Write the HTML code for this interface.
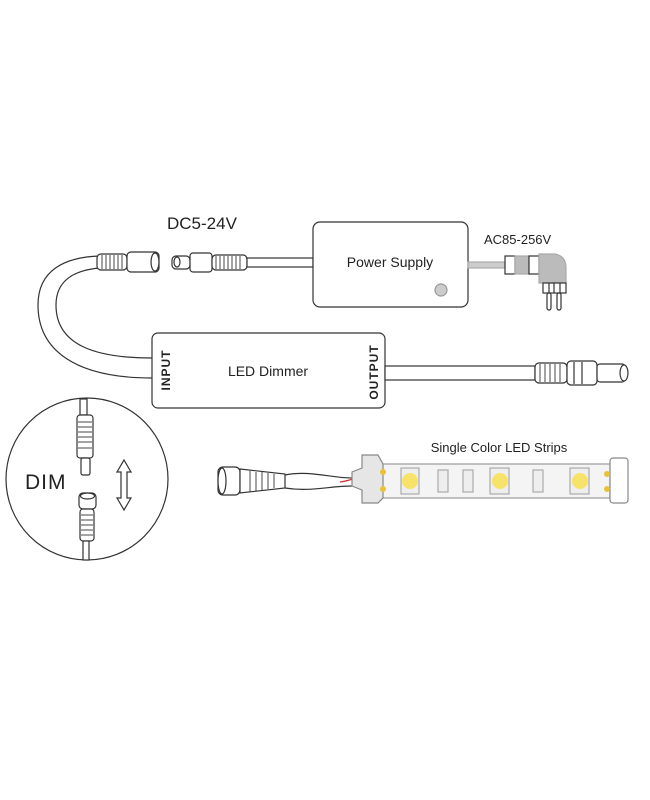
<!DOCTYPE html>
<html><head><meta charset="utf-8"><style>
body{margin:0;background:#fff}
svg{display:block}
text{font-family:"Liberation Sans",sans-serif;fill:#222}
</style></head><body>
<svg width="650" height="800" viewBox="0 0 650 800" xmlns="http://www.w3.org/2000/svg">
<g stroke="#333" stroke-width="1.2" fill="#fff">
<!-- curved cable -->
<path d="M152,378 C75,378 38,350 38,305 C38,270 65,257 100,256" fill="none"/>
<path d="M152,358 C95,358 56,345 56,305 C56,280 75,270 100,268" fill="none"/>
<!-- female connector top -->
<rect x="97" y="254" width="30" height="16" rx="4"/>
<g stroke-width="0.9"><line x1="102" y1="255" x2="102" y2="269"/><line x1="106" y1="255" x2="106" y2="269"/><line x1="110" y1="255" x2="110" y2="269"/><line x1="114" y1="255" x2="114" y2="269"/><line x1="118" y1="255" x2="118" y2="269"/><line x1="122" y1="255" x2="122" y2="269"/></g>
<rect x="127" y="252" width="32" height="20" rx="4"/>
<ellipse cx="155" cy="262" rx="4" ry="9"/>
<!-- male plug -->
<rect x="172" y="256" width="18" height="13" rx="4"/>
<ellipse cx="177" cy="262" rx="3" ry="5"/>
<rect x="190" y="253" width="22" height="19" rx="3"/>
<rect x="212" y="255" width="35" height="15" rx="4"/>
<g stroke-width="0.9"><line x1="216" y1="256" x2="216" y2="269"/><line x1="220" y1="256" x2="220" y2="269"/><line x1="224" y1="256" x2="224" y2="269"/><line x1="228" y1="256" x2="228" y2="269"/><line x1="232" y1="256" x2="232" y2="269"/><line x1="236" y1="256" x2="236" y2="269"/><line x1="240" y1="256" x2="240" y2="269"/></g>
<rect x="247" y="258" width="66" height="9"/>
<!-- power supply -->
<rect x="313" y="222" width="155" height="85" rx="7"/>
<circle cx="441" cy="290" r="6" fill="#ccc" stroke="#999"/>
<!-- AC cable/plug -->
<rect x="468" y="262" width="37" height="6" fill="#ccc" stroke="#aaa"/>
<rect x="505" y="256" width="10" height="18" fill="#fff"/>
<rect x="515" y="256" width="14" height="18" fill="#bbb" stroke="#aaa"/>
<rect x="529" y="256" width="10" height="18" fill="#fff"/>
<path d="M539,254 L555,254 Q566,256 566,268 L566,283 L539,283 Z" fill="#bbb" stroke="#aaa"/>
<rect x="543" y="283" width="23" height="10" fill="#fff"/>
<line x1="549" y1="283" x2="549" y2="293"/><line x1="554" y1="283" x2="554" y2="293"/><line x1="560" y1="283" x2="560" y2="293"/>
<rect x="547" y="293" width="4" height="17" rx="2"/>
<rect x="557" y="293" width="4" height="17" rx="2"/>
<!-- dimmer -->
<rect x="152" y="333" width="233" height="75" rx="6"/>
<rect x="385" y="366" width="150" height="14"/>
<rect x="535" y="363" width="32" height="20" rx="4"/>
<g stroke-width="0.9"><line x1="540" y1="364" x2="540" y2="382"/><line x1="545" y1="364" x2="545" y2="382"/><line x1="550" y1="364" x2="550" y2="382"/><line x1="555" y1="364" x2="555" y2="382"/><line x1="560" y1="364" x2="560" y2="382"/></g>
<rect x="567" y="361" width="30" height="24" rx="4"/>
<line x1="574" y1="362" x2="574" y2="384"/><line x1="582" y1="362" x2="582" y2="384"/>
<rect x="597" y="364" width="28" height="18" rx="3"/>
<ellipse cx="624" cy="373" rx="4" ry="8"/>
<!-- circle -->
<circle cx="87" cy="479" r="81" fill="none"/>
<rect x="80" y="399" width="7" height="16"/>
<rect x="77" y="415" width="16" height="43" rx="3"/>
<g stroke-width="0.9"><line x1="78" y1="422" x2="92" y2="422"/><line x1="78" y1="427" x2="92" y2="427"/><line x1="78" y1="432" x2="92" y2="432"/><line x1="78" y1="437" x2="92" y2="437"/><line x1="78" y1="442" x2="92" y2="442"/><line x1="78" y1="448" x2="92" y2="448"/></g>
<rect x="81" y="458" width="9" height="17" rx="2"/>
<rect x="79" y="493" width="17" height="16" rx="4"/>
<ellipse cx="87.5" cy="496" rx="7" ry="3"/>
<rect x="80" y="509" width="14" height="32" rx="3"/>
<g stroke-width="0.9"><line x1="81" y1="515" x2="93" y2="515"/><line x1="81" y1="520" x2="93" y2="520"/><line x1="81" y1="525" x2="93" y2="525"/><line x1="81" y1="530" x2="93" y2="530"/><line x1="81" y1="535" x2="93" y2="535"/></g>
<rect x="83" y="541" width="6" height="19"/>
<path d="M124,460 L131,472 L127,472 L127,498 L131,498 L124,510 L117,498 L121,498 L121,472 L117,472 Z"/>
<!-- strip connector -->
<rect x="218" y="467" width="22" height="28" rx="5"/>
<ellipse cx="222" cy="481" rx="4" ry="13"/>
<path d="M240,469 L285,474 L285,488 L240,493 Z"/>
<g stroke-width="0.9"><line x1="250" y1="471" x2="250" y2="492"/><line x1="256" y1="472" x2="256" y2="491"/><line x1="262" y1="472" x2="262" y2="490"/><line x1="268" y1="473" x2="268" y2="489"/><line x1="274" y1="474" x2="274" y2="488"/></g>
<path d="M285,475 C310,470 330,478 352,478 M285,488 C310,492 330,486 352,486" fill="none"/>
<path d="M340,482 C355,480 370,472 382,468" fill="none" stroke="#c33"/>
<rect x="380" y="464" width="230" height="34" fill="#f4f4f4" stroke="#999"/>
<path d="M362,455 L378,455 L383,464 L383,498 L378,503 L362,503 L362,490 L352,486 L352,472 L362,468 Z" fill="#e6e6e6" stroke="#888"/>
<rect x="610" y="458" width="18" height="45" rx="3" fill="#fff" stroke="#888"/>
<circle cx="383" cy="472" r="3" fill="#e9c23b" stroke="none"/>
<circle cx="383" cy="489" r="3" fill="#e9c23b" stroke="none"/>
<circle cx="607" cy="474" r="3" fill="#e9c23b" stroke="none"/>
<circle cx="607" cy="489" r="3" fill="#e9c23b" stroke="none"/>
<g stroke="#aaa" fill="#eee"><rect x="401" y="468" width="18" height="26"/><rect x="490" y="468" width="19" height="26"/><rect x="570" y="468" width="19" height="26"/>
<rect x="438" y="470" width="10" height="22"/><rect x="463" y="470" width="10" height="22"/><rect x="533" y="470" width="10" height="22"/></g>
<g stroke="none" fill="#f7e36a"><circle cx="410" cy="481" r="8"/><circle cx="500" cy="481" r="8"/><circle cx="580" cy="481" r="8"/></g>
</g>
<text x="167" y="229" font-size="17">DC5-24V</text>
<text x="390" y="267" font-size="14" text-anchor="middle">Power Supply</text>
<text x="484" y="244" font-size="13">AC85-256V</text>
<text x="268" y="376" font-size="14" text-anchor="middle">LED Dimmer</text>
<text transform="translate(170,370) rotate(-90)" font-size="12" font-weight="bold" text-anchor="middle" letter-spacing="1">INPUT</text>
<text transform="translate(378,372) rotate(-90)" font-size="12" font-weight="bold" text-anchor="middle" letter-spacing="1">OUTPUT</text>
<text x="25" y="489" font-size="21" letter-spacing="1">DIM</text>
<text x="499" y="452" font-size="13" text-anchor="middle">Single Color LED Strips</text>
</svg>
</body></html>
